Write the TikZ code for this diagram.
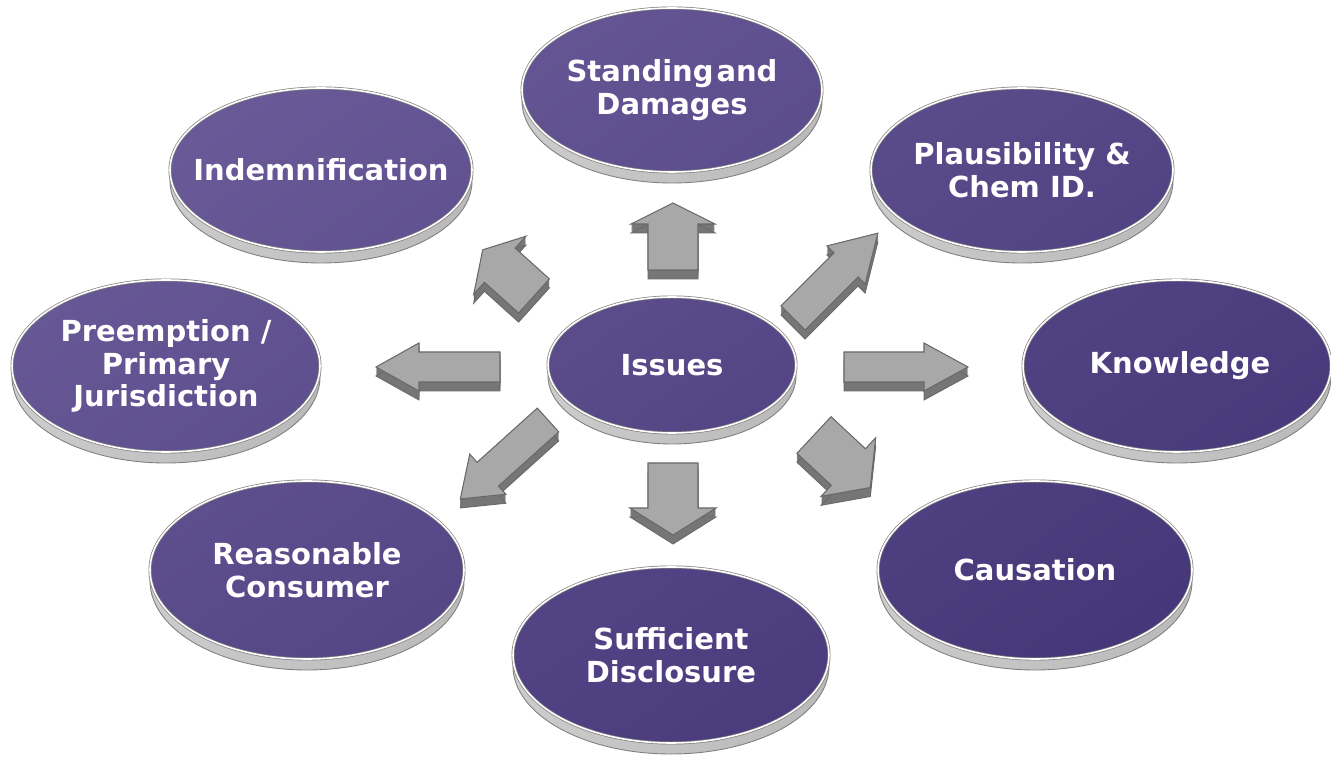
\documentclass[tikz,border=0pt]{standalone}
\usepackage{fontspec}
\setmainfont{DejaVu Sans}
\usepackage{tikz}
\definecolor{discLight}{RGB}{106, 90, 152}
\definecolor{discDark}{RGB}{68, 54, 120}
\definecolor{rimGray}{RGB}{128, 128, 128}
\definecolor{arrowTop}{RGB}{168, 168, 168}
\definecolor{arrowSide}{RGB}{118, 118, 118}
\definecolor{arrowEdge}{RGB}{105, 105, 105}

% flat block arrow with some depth
% #1 tail centre, #2 angle, #3 length, #4 shaft half width, #5 head half width, #6 head length
\newcommand{\blockarrow}[6]{%
  \foreach \d in {1,...,9}
    \fill[arrowSide, shift={(0,\d)}, shift={(#1)}, rotate=#2]
      (0,-#4) -- (#3-#6,-#4) -- (#3-#6,-#5) -- (#3,0) -- (#3-#6,#5) -- (#3-#6,#4) -- (0,#4) -- cycle;
  \draw[arrowEdge, line width=0.5pt, shift={(0,9)}, shift={(#1)}, rotate=#2]
      (0,-#4) -- (#3-#6,-#4) -- (#3-#6,-#5) -- (#3,0) -- (#3-#6,#5) -- (#3-#6,#4) -- (0,#4) -- cycle;
  \filldraw[fill=arrowTop, draw=arrowEdge, line width=0.6pt, shift={(#1)}, rotate=#2]
      (0,-#4) -- (#3-#6,-#4) -- (#3-#6,-#5) -- (#3,0) -- (#3-#6,#5) -- (#3-#6,#4) -- (0,#4) -- cycle;
}

\begin{document}
\begin{tikzpicture}[x=0.02cm, y=-0.02cm,
    rim/.style={draw=rimGray, line width=0.5pt, left color=gray!40, middle color=white, right color=gray!55},
    face/.style={draw=rimGray, line width=0.4pt, double=white, double distance=0.9pt,
      path picture={\shade[top color=discLight, bottom color=discDark, shading angle=35] (0,0) rectangle (1331,759);}},
    disctext/.style={text=white, align=center, font=\bfseries\fontsize{16.5}{18.5}\selectfont}]

  \useasboundingbox (0,0) rectangle (1331,759);

  % Top row
  \draw[rim] (321,181) ellipse [x radius=151, y radius=82];
  \draw[face] (321,170) ellipse [x radius=151, y radius=82];
  \node[disctext] (indem) at (321,170) {Indemnification};

  \draw[rim] (672,101) ellipse [x radius=150, y radius=82];
  \draw[face] (672,90) ellipse [x radius=150, y radius=82];
  \node[disctext] (standing) at (672,90) {Standing\hspace{0.1em}and\\Damages};

  \draw[rim] (1022,181) ellipse [x radius=151, y radius=82];
  \draw[face] (1022,170) ellipse [x radius=151, y radius=82];
  \node[disctext] (plaus) at (1022,170) {Plausibility \&\\Chem ID.};

  % Middle row
  \draw[rim] (166,377) ellipse [x radius=154, y radius=86];
  \draw[face] (166,366) ellipse [x radius=154, y radius=86];
  \node[disctext] (preempt) at (166,366) {Preemption /\\Primary\\Jurisdiction};

  \draw[rim] (672,376) ellipse [x radius=124, y radius=68];
  \draw[face] (672,365) ellipse [x radius=124, y radius=68];
  \node[disctext] (issues) at (672,365) {Issues};

  \draw[rim] (1177,377) ellipse [x radius=154, y radius=86];
  \draw[face] (1177,366) ellipse [x radius=154, y radius=86];
  \node[disctext] (knowledge) at (1180,366) {Knowledge};

  % Bottom row
  \draw[rim] (307,581) ellipse [x radius=157, y radius=89];
  \draw[face] (307,570) ellipse [x radius=157, y radius=89];
  \node[disctext] (reasonable) at (307,570) {Reasonable\\Consumer};

  \draw[rim] (671,666) ellipse [x radius=158, y radius=88];
  \draw[face] (671,655) ellipse [x radius=158, y radius=88];
  \node[disctext] (sufficient) at (671,655) {Sufficient\\Disclosure};

  \draw[rim] (1035,581) ellipse [x radius=157, y radius=89];
  \draw[face] (1035,570) ellipse [x radius=157, y radius=89];
  \node[disctext] (causation) at (1035,570) {Causation};

  % Arrows out of the centre disc
  \blockarrow{673,270}{90}{67}{25}{42}{21}
  \blockarrow{534,296}{138}{69}{23}{39}{23}
  \blockarrow{793,318}{45}{120}{17}{27}{45}
  \blockarrow{500,367}{180}{124}{15}{24}{43}
  \blockarrow{844,367}{0}{124}{15}{24}{44}
  \blockarrow{548,420}{222}{118}{16}{27}{37}
  \blockarrow{814,435}{-43}{77}{25}{40}{30}
  \blockarrow{673,463}{-90}{72}{25}{43}{27}
\end{tikzpicture}
\end{document}
